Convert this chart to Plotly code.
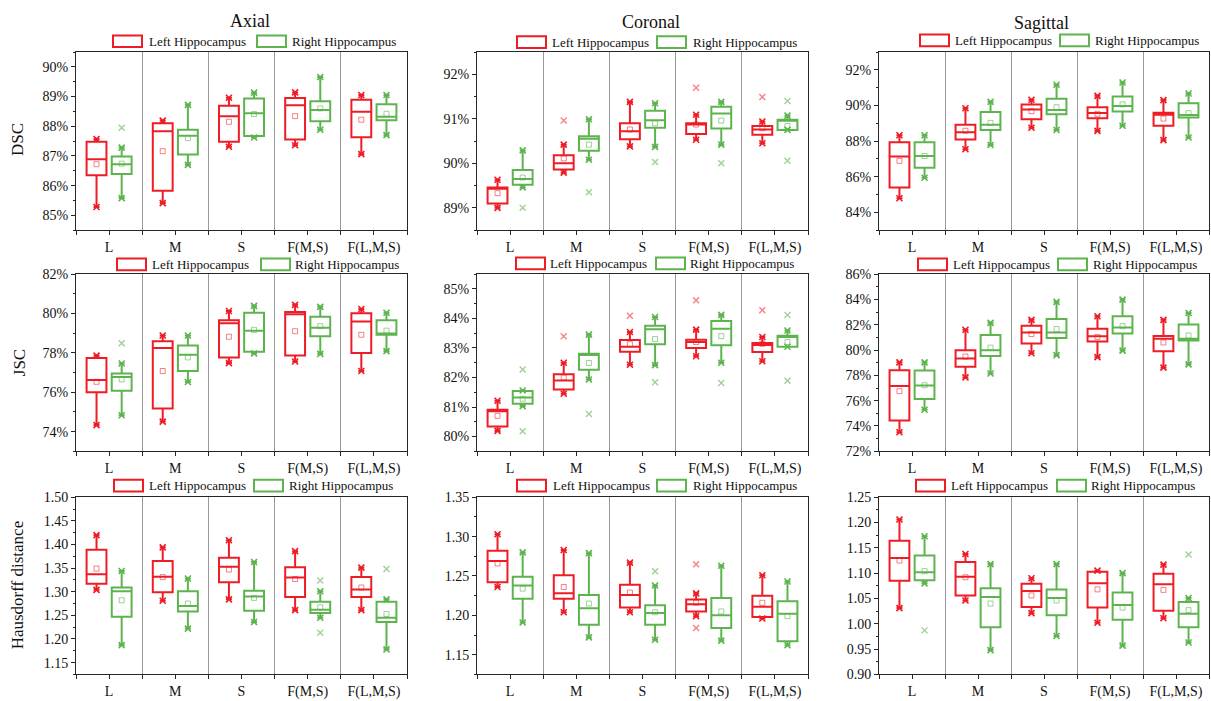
import plotly.graph_objects as go
from plotly.subplots import make_subplots

CATEGORIES = ["L", "M", "S", "F(M,S)", "F(L,M,S)"]
VIEWS = ["Axial", "Coronal", "Sagittal"]
METRICS = ["DSC", "JSC", "Hausdorff distance"]
SERIES = ["Left Hippocampus", "Right Hippocampus"]

# Each entry: (lower whisker, Q1, median, Q3, upper whisker, mean, outliers)
AXIAL_DSC_LEFT = [
    (85.28, 86.35, 86.89, 87.48, 87.57, 86.72, []),
    (85.41, 85.83, 87.83, 88.10, 88.19, 87.16, []),
    (87.31, 87.48, 88.34, 88.69, 88.96, 88.15, []),
    (87.36, 87.55, 88.71, 88.95, 89.14, 88.34, []),
    (87.06, 87.63, 88.49, 88.89, 89.05, 88.22, []),
]
AXIAL_DSC_RIGHT = [
    (85.58, 86.39, 86.72, 86.98, 87.28, 86.74, [87.95]),
    (86.70, 87.05, 87.68, 87.88, 88.72, 87.60, []),
    (87.62, 87.67, 88.44, 88.93, 89.13, 88.41, []),
    (87.88, 88.17, 88.55, 88.84, 89.66, 88.60, []),
    (87.70, 88.20, 88.32, 88.74, 89.05, 88.42, []),
]
CORONAL_DSC_LEFT = [
    (89.00, 89.10, 89.43, 89.46, 89.63, 89.33, []),
    (89.79, 89.86, 90.00, 90.18, 90.42, 90.11, [90.96]),
    (90.38, 90.54, 90.72, 90.90, 91.38, 90.76, []),
    (90.53, 90.66, 90.87, 90.90, 91.09, 90.87, [91.70]),
    (90.45, 90.64, 90.76, 90.84, 90.94, 90.79, [91.49]),
]
CORONAL_DSC_RIGHT = [
    (89.46, 89.52, 89.65, 89.85, 90.29, 89.68, [89.00]),
    (90.08, 90.28, 90.55, 90.61, 90.99, 90.42, [89.35]),
    (90.37, 90.80, 90.97, 91.18, 91.35, 90.90, [90.03]),
    (90.42, 90.78, 91.12, 91.27, 91.38, 90.96, [90.00]),
    (90.75, 90.75, 90.96, 90.98, 91.07, 90.84, [90.06, 91.40]),
]
SAGITTAL_DSC_LEFT = [
    (84.79, 85.39, 87.14, 87.93, 88.33, 86.89, []),
    (87.54, 88.09, 88.49, 88.91, 89.84, 88.58, []),
    (88.75, 89.22, 89.77, 90.05, 90.32, 89.68, []),
    (88.57, 89.28, 89.57, 89.90, 90.54, 89.53, []),
    (88.05, 88.86, 89.48, 89.59, 90.30, 89.26, []),
]
SAGITTAL_DSC_RIGHT = [
    (85.94, 86.50, 87.16, 87.93, 88.33, 87.16, []),
    (87.78, 88.62, 88.91, 89.63, 90.21, 89.02, []),
    (88.62, 89.50, 89.74, 90.37, 91.16, 89.90, []),
    (88.86, 89.66, 89.97, 90.50, 91.29, 90.06, []),
    (88.20, 89.33, 89.46, 90.12, 90.67, 89.57, []),
]
AXIAL_JSC_LEFT = [
    (74.33, 76.00, 76.62, 77.74, 77.86, 76.53, []),
    (74.51, 75.18, 78.25, 78.59, 78.88, 77.08, []),
    (77.48, 77.76, 79.50, 79.66, 80.13, 78.82, []),
    (77.56, 77.87, 79.96, 80.08, 80.44, 79.10, []),
    (77.08, 77.99, 79.60, 80.01, 80.23, 78.92, []),
]
AXIAL_JSC_RIGHT = [
    (74.83, 76.07, 76.78, 76.95, 77.46, 76.65, [78.49]),
    (76.52, 77.08, 77.91, 78.37, 78.88, 77.77, []),
    (77.97, 78.06, 79.12, 80.04, 80.39, 79.17, []),
    (77.95, 78.85, 79.28, 79.83, 80.34, 79.36, []),
    (78.09, 78.92, 78.98, 79.66, 80.04, 79.13, []),
]
CORONAL_JSC_LEFT = [
    (80.19, 80.34, 80.86, 80.91, 81.21, 80.70, []),
    (81.45, 81.59, 81.90, 82.11, 82.50, 82.00, [83.40]),
    (82.43, 82.87, 83.04, 83.27, 83.54, 83.13, [84.09]),
    (82.72, 83.00, 83.20, 83.28, 83.62, 83.20, [84.62]),
    (82.55, 82.86, 83.10, 83.17, 83.37, 83.14, [84.28]),
]
CORONAL_JSC_RIGHT = [
    (81.03, 81.11, 81.32, 81.54, 81.56, 81.28, [82.27, 80.18]),
    (81.93, 82.26, 82.76, 82.80, 83.45, 82.49, [80.76]),
    (82.42, 83.13, 83.63, 83.75, 84.05, 83.30, [81.84]),
    (82.50, 83.09, 83.65, 83.91, 84.12, 83.40, [81.81]),
    (83.04, 83.04, 83.37, 83.41, 83.59, 83.20, [84.12, 81.89]),
]
SAGITTAL_JSC_LEFT = [
    (73.50, 74.43, 77.17, 78.41, 79.03, 76.75, []),
    (77.84, 78.69, 79.34, 79.98, 81.61, 79.49, []),
    (79.75, 80.52, 81.38, 81.92, 82.39, 81.27, []),
    (79.44, 80.68, 81.09, 81.69, 82.67, 81.04, []),
    (78.61, 79.90, 80.89, 81.12, 82.39, 80.60, []),
]
SAGITTAL_JSC_RIGHT = [
    (75.28, 76.13, 77.19, 78.38, 79.03, 77.22, []),
    (78.15, 79.54, 79.98, 81.20, 82.15, 80.19, []),
    (79.60, 80.96, 81.38, 82.46, 83.81, 81.66, []),
    (79.96, 81.30, 81.79, 82.67, 83.99, 81.89, []),
    (78.87, 80.76, 80.89, 82.02, 82.93, 81.15, []),
]
AXIAL_HD_LEFT = [
    (1.304, 1.317, 1.337, 1.389, 1.420, 1.349, []),
    (1.281, 1.299, 1.332, 1.365, 1.394, 1.331, []),
    (1.284, 1.320, 1.353, 1.372, 1.409, 1.347, []),
    (1.261, 1.289, 1.330, 1.352, 1.386, 1.327, []),
    (1.261, 1.289, 1.305, 1.331, 1.351, 1.309, []),
]
AXIAL_HD_RIGHT = [
    (1.187, 1.247, 1.301, 1.309, 1.344, 1.282, []),
    (1.222, 1.258, 1.270, 1.301, 1.328, 1.275, []),
    (1.236, 1.260, 1.290, 1.302, 1.363, 1.287, []),
    (1.245, 1.255, 1.262, 1.279, 1.301, 1.267, [1.324, 1.213]),
    (1.178, 1.236, 1.245, 1.279, 1.284, 1.253, [1.348]),
]
CORONAL_HD_LEFT = [
    (1.236, 1.242, 1.269, 1.282, 1.303, 1.266, []),
    (1.204, 1.221, 1.228, 1.251, 1.283, 1.236, []),
    (1.204, 1.210, 1.226, 1.239, 1.267, 1.229, []),
    (1.199, 1.205, 1.214, 1.220, 1.228, 1.216, [1.265, 1.184]),
    (1.196, 1.198, 1.211, 1.225, 1.251, 1.216, []),
]
CORONAL_HD_RIGHT = [
    (1.191, 1.221, 1.238, 1.249, 1.280, 1.234, []),
    (1.172, 1.188, 1.209, 1.226, 1.279, 1.215, []),
    (1.169, 1.188, 1.203, 1.213, 1.238, 1.204, [1.256]),
    (1.168, 1.184, 1.200, 1.222, 1.263, 1.205, []),
    (1.162, 1.167, 1.202, 1.218, 1.243, 1.199, []),
]
SAGITTAL_HD_LEFT = [
    (1.031, 1.085, 1.130, 1.164, 1.206, 1.125, []),
    (1.046, 1.056, 1.093, 1.122, 1.138, 1.092, []),
    (1.021, 1.033, 1.065, 1.079, 1.090, 1.056, []),
    (1.002, 1.032, 1.080, 1.103, 1.105, 1.068, []),
    (1.011, 1.026, 1.078, 1.099, 1.117, 1.067, []),
]
SAGITTAL_HD_RIGHT = [
    (1.080, 1.086, 1.102, 1.135, 1.173, 1.104, [0.987]),
    (0.948, 0.993, 1.053, 1.070, 1.118, 1.040, []),
    (0.976, 1.017, 1.051, 1.068, 1.118, 1.046, []),
    (0.957, 1.008, 1.037, 1.062, 1.100, 1.032, []),
    (0.963, 0.993, 1.020, 1.043, 1.051, 1.027, [1.137]),
]

# ---------------------------------------------------------------- layout
W, H = 1211, 701
FONT = "Liberation Serif"
RED = "#EE1C25"
GREEN = "#5DB44F"
RED_SOFT = "rgba(238,28,37,0.55)"
GREEN_SOFT = "rgba(93,180,79,0.6)"
FRAME = "#262626"
SEP = "#9A9A9A"


def px(x):
    return x / W


def py(y):
    return 1 - y / H


# panel frames in pixels: columns (left, right), rows (top, bottom)
COLS_PX = [(76, 407), (477, 808), (879, 1209)]
ROWS_PX = [(46, 228), (273, 454), (501, 682)]

PANELS = {
    (0, 0): (AXIAL_DSC_LEFT, AXIAL_DSC_RIGHT),
    (0, 1): (CORONAL_DSC_LEFT, CORONAL_DSC_RIGHT),
    (0, 2): (SAGITTAL_DSC_LEFT, SAGITTAL_DSC_RIGHT),
    (1, 0): (AXIAL_JSC_LEFT, AXIAL_JSC_RIGHT),
    (1, 1): (CORONAL_JSC_LEFT, CORONAL_JSC_RIGHT),
    (1, 2): (SAGITTAL_JSC_LEFT, SAGITTAL_JSC_RIGHT),
    (2, 0): (AXIAL_HD_LEFT, AXIAL_HD_RIGHT),
    (2, 1): (CORONAL_HD_LEFT, CORONAL_HD_RIGHT),
    (2, 2): (SAGITTAL_HD_LEFT, SAGITTAL_HD_RIGHT),
}

# y axis: (range, major step, minor step, percent?)
Y_AXES = {
    (0, 0): ([84.5, 90.5], 1, 0.5, True),
    (0, 1): ([88.5, 92.5], 1, 0.5, True),
    (0, 2): ([83, 93], 2, 1, True),
    (1, 0): ([73, 82], 2, 1, True),
    (1, 1): ([79.5, 85.5], 1, 0.5, True),
    (1, 2): ([72, 86], 2, 1, True),
    (2, 0): ([1.125, 1.5], 0.05, 0.025, False),
    (2, 1): ([1.125, 1.35], 0.05, 0.025, False),
    (2, 2): ([0.9, 1.25], 0.05, 0.025, False),
}

# legend placement per panel: (red box left x, text-left x, green box left x, green text x, center y)
LEGEND_PX = {
    (0, 0): (113, 147, 257, 290, 35),
    (0, 1): (517, 550, 657, 691, 36),
    (0, 2): (920, 953, 1060, 1093, 34),
    (1, 0): (117, 150, 261, 293, 263),
    (1, 1): (516, 548, 656, 688, 262),
    (1, 2): (918, 951, 1058, 1091, 263),
    (2, 0): (114, 147, 254, 287, 489),
    (2, 1): (517, 551, 657, 691, 489),
    (2, 2): (916, 949, 1057, 1089, 489),
}

OFFSET = 0.19
BOX_W = 0.3

fig = make_subplots(rows=3, cols=3)

shapes = []
annotations = []

for (r, c), (left, right) in PANELS.items():
    row, col = r + 1, c + 1
    for data, off, color, soft in ((left, -OFFSET, RED, RED_SOFT),
                                   (right, OFFSET, GREEN, GREEN_SOFT)):
        pos = [i + 1 + off for i in range(len(CATEGORIES))]
        lo = [d[0] for d in data]
        q1 = [d[1] for d in data]
        med = [d[2] for d in data]
        q3 = [d[3] for d in data]
        hi = [d[4] for d in data]
        mean = [d[5] for d in data]
        fig.add_trace(go.Box(
            x=pos, q1=q1, median=med, q3=q3, lowerfence=lo, upperfence=hi,
            width=BOX_W, whiskerwidth=0.3, boxpoints=False,
            line=dict(color=color, width=2), fillcolor="rgba(0,0,0,0)",
            showlegend=False, hoverinfo="skip"),
            row=row, col=col)
        # whisker end markers
        fig.add_trace(go.Scatter(
            x=pos + pos, y=lo + hi, mode="markers", showlegend=False,
            hoverinfo="skip",
            marker=dict(symbol="x-thin", size=6,
                        line=dict(color=color, width=1.6))),
            row=row, col=col)
        # means
        fig.add_trace(go.Scatter(
            x=pos, y=mean, mode="markers", showlegend=False, hoverinfo="skip",
            marker=dict(symbol="square-open", size=5, color=soft,
                        line=dict(color=soft, width=1))),
            row=row, col=col)
        # outliers
        ox, oy = [], []
        for p, d in zip(pos, data):
            for v in d[6]:
                ox.append(p)
                oy.append(v)
        if ox:
            fig.add_trace(go.Scatter(
                x=ox, y=oy, mode="markers", showlegend=False, hoverinfo="skip",
                marker=dict(symbol="x-thin", size=6,
                            line=dict(color=soft, width=1.4))),
                row=row, col=col)

    x0, x1 = COLS_PX[c]
    y0, y1 = ROWS_PX[r]
    fig.update_xaxes(
        domain=[px(x0), px(x1)], range=[0.5, 5.5],
        tickmode="array", tickvals=[1, 2, 3, 4, 5], ticktext=CATEGORIES,
        ticks="outside", ticklen=4, tickwidth=1, tickcolor=FRAME,
        showgrid=False, zeroline=False,
        showline=True, linecolor=FRAME, linewidth=1, mirror=True,
        tickfont=dict(family=FONT, size=14, color="#111"),
        minor=dict(tickmode="array", tickvals=[0.5, 1.5, 2.5, 3.5, 4.5, 5.5],
                   ticks="outside", ticklen=4, tickcolor=FRAME,
                   showgrid=True, gridcolor=SEP, gridwidth=1),
        row=row, col=col)
    yr, dt, mdt, pct = Y_AXES[(r, c)]
    fig.update_yaxes(
        domain=[py(y1), py(y0)], range=yr,
        tick0=0, dtick=dt, ticks="outside", ticklen=4, tickwidth=1,
        tickcolor=FRAME,
        ticksuffix="%" if pct else "", tickformat="d" if pct else ".2f",
        showgrid=False, zeroline=False,
        showline=True, linecolor=FRAME, linewidth=1, mirror=True,
        tickfont=dict(family=FONT, size=14, color="#111"),
        minor=dict(dtick=mdt, tick0=0, ticks="outside", ticklen=2,
                   tickcolor=FRAME, showgrid=False),
        row=row, col=col)

    # legend drawn per panel
    rx, rtx, gx, gtx, cy = LEGEND_PX[(r, c)]
    for bx, tx, color, name in ((rx, rtx, RED, SERIES[0]),
                                (gx, gtx, GREEN, SERIES[1])):
        shapes.append(dict(type="rect", xref="paper", yref="paper",
                           x0=px(bx), x1=px(bx + 29), y0=py(cy + 6), y1=py(cy - 6),
                           line=dict(color=color, width=2),
                           fillcolor="rgba(0,0,0,0)"))
        annotations.append(dict(text=name, xref="paper", yref="paper",
                                x=px(tx), y=py(cy), xanchor="left", yanchor="middle",
                                showarrow=False,
                                font=dict(family=FONT, size=13, color="#111")))

# column titles
for name, (x, y) in zip(VIEWS, [(250, 14), (651, 15), (1041, 16)]):
    annotations.append(dict(text=name, xref="paper", yref="paper",
                            x=px(x), y=py(y), xanchor="center", yanchor="middle",
                            showarrow=False,
                            font=dict(family=FONT, size=18, color="#111")))

# row titles
for name, (x, y) in zip(METRICS, [(17, 136), (19, 364), (17, 591)]):
    annotations.append(dict(text=name, xref="paper", yref="paper",
                            x=px(x), y=py(y), xanchor="center", yanchor="middle",
                            textangle=-90, showarrow=False,
                            font=dict(family=FONT, size=17, color="#111")))

fig.update_layout(
    width=W, height=H, margin=dict(l=0, r=0, t=0, b=0),
    paper_bgcolor="white", plot_bgcolor="white",
    boxmode="overlay", showlegend=False,
    shapes=shapes, annotations=annotations,
    font=dict(family=FONT),
)

fig.write_html("out.html")
